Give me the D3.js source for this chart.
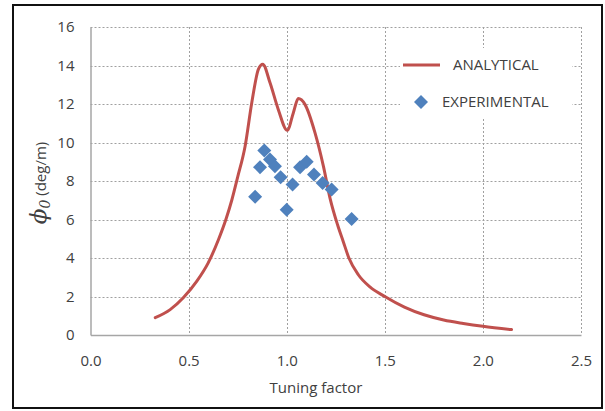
<!DOCTYPE html>
<html>
<head>
<meta charset="utf-8">
<script src="https://cdn.jsdelivr.net/npm/d3@7"></script>
<style>
  body { margin: 0; background: #fff; }
  text { font-family: "Open Sans", sans-serif; fill: #404040; }
</style>
</head>
<body>
<div id="chart"></div>
<script>
const width = 605
const height = 411

// analytical curve (tuning factor, phi0)
const analyticalX = [0.33, 0.406, 0.474, 0.542, 0.6, 0.652, 0.69, 0.72, 0.75, 0.788, 0.822, 0.856, 0.878, 0.915, 0.957, 1.003, 1.034, 1.059, 1.093, 1.144, 1.187, 1.221, 1.26, 1.288, 1.317, 1.365, 1.424, 1.5, 1.6, 1.7, 1.8, 1.9, 2.0, 2.146]
const analyticalY = [0.9, 1.32, 1.95, 2.8, 3.75, 4.95, 6.0, 7.0, 8.2, 9.81, 12.07, 13.81, 14.07, 13.1, 11.72, 10.63, 11.55, 12.28, 11.98, 10.51, 8.77, 7.1, 5.7, 4.86, 4.0, 3.13, 2.5, 2.0, 1.45, 1.05, 0.78, 0.6, 0.45, 0.28]

// experimental points
const experimentalX = [0.839, 0.864, 0.886, 0.915, 0.940, 0.969, 1.0, 1.030, 1.068, 1.102, 1.139, 1.183, 1.229, 1.331]
const experimentalY = [7.18, 8.72, 9.59, 9.12, 8.77, 8.20, 6.51, 7.82, 8.72, 9.0, 8.34, 7.90, 7.56, 6.03]

const xTicks = [0, 0.5, 1.0, 1.5, 2.0, 2.5]
const yTicks = [0, 2, 4, 6, 8, 10, 12, 14, 16]

const lineColor = '#C0504D'
const pointColor = '#4F81BD'

const margin = { left: 90.5, right: 581, top: 27, bottom: 335 }

const xScale = d3.scaleLinear().domain([0, 2.5]).range([margin.left, margin.right])
const yScale = d3.scaleLinear().domain([0, 16]).range([margin.bottom, margin.top])

const svg = d3.select('#chart').append('svg').attr('width', width).attr('height', height)

svg.append('rect').attr('width', width).attr('height', height).attr('fill', '#fff')

// gridlines
svg.append('g').selectAll('line').data(yTicks.filter(d => d > 0))
  .enter().append('line')
  .attr('x1', margin.left).attr('x2', margin.right)
  .attr('y1', d => Math.round(yScale(d)) + 0.5).attr('y2', d => Math.round(yScale(d)) + 0.5)
  .attr('stroke', '#a0a0a0').attr('stroke-dasharray', '2,2')

svg.append('g').selectAll('line').data(xTicks.filter(d => d > 0))
  .enter().append('line')
  .attr('x1', d => Math.round(xScale(d)) + 0.5).attr('x2', d => Math.round(xScale(d)) + 0.5)
  .attr('y1', margin.top).attr('y2', margin.bottom)
  .attr('stroke', '#a0a0a0').attr('stroke-dasharray', '2,2')

// axes
const xAxis = d3.axisBottom(xScale).tickValues(xTicks).tickFormat(d3.format('.1f')).tickSize(0).tickPadding(20)
const yAxis = d3.axisLeft(yScale).tickValues(yTicks).tickFormat(d3.format('d')).tickSize(0).tickPadding(16)

const gx = svg.append('g').attr('transform', 'translate(0,' + margin.bottom + ')').call(xAxis)
const gy = svg.append('g').attr('transform', 'translate(' + margin.left + ',0)').call(yAxis)
gx.select('.domain').attr('stroke', '#a6a6a6').attr('stroke-width', 1.5)
gy.select('.domain').attr('stroke', '#a6a6a6').attr('stroke-width', 1.5)
svg.selectAll('.tick text').attr('font-family', '"Open Sans", sans-serif').attr('font-size', 15).attr('fill', '#404040')

// legend box
svg.append('rect').attr('x', 400).attr('y', 48).attr('width', 172).attr('height', 70).attr('fill', '#fff')

// analytical line
const lineData = analyticalX.map((x, i) => [x, analyticalY[i]])
const line = d3.line()
  .x(d => xScale(d[0]))
  .y(d => yScale(d[1]))
  .curve(d3.curveMonotoneX)

svg.append('path').datum(lineData)
  .attr('d', line)
  .attr('fill', 'none')
  .attr('stroke', lineColor)
  .attr('stroke-width', 3)
  .attr('stroke-linecap', 'round')

// experimental diamonds
const diamond = d3.symbol().type(d3.symbolSquare).size(98)
svg.append('g').selectAll('path').data(experimentalX.map((x, i) => [x, experimentalY[i]]))
  .enter().append('path')
  .attr('d', diamond)
  .attr('transform', d => 'translate(' + xScale(d[0]) + ',' + yScale(d[1]) + ') rotate(45)')
  .attr('fill', pointColor)

// legend
svg.append('line').attr('x1', 403).attr('x2', 440).attr('y1', 65).attr('y2', 65)
  .attr('stroke', lineColor).attr('stroke-width', 3)
svg.append('text').attr('x', 453).attr('y', 65).attr('dy', '0.35em').attr('font-size', 15).text('ANALYTICAL')
svg.append('path').attr('d', diamond).attr('transform', 'translate(421,102) rotate(45)').attr('fill', pointColor)
svg.append('text').attr('x', 442).attr('y', 102).attr('dy', '0.35em').attr('font-size', 15).text('EXPERIMENTAL')

// axis titles
svg.append('text').attr('x', 316).attr('y', 393).attr('text-anchor', 'middle').attr('font-size', 15).text('Tuning factor')

const yTitle = svg.append('text').attr('transform', 'translate(46,183) rotate(-90)').attr('text-anchor', 'middle')
yTitle.append('tspan').attr('font-family', '"DejaVu Serif", serif').attr('font-style', 'italic').attr('font-size', 23).text('ϕ')
yTitle.append('tspan').attr('font-family', '"DejaVu Serif", serif').attr('font-style', 'italic').attr('font-size', 14).attr('dy', 4).text('0')
yTitle.append('tspan').attr('font-size', 15).attr('dy', -4).text(' (deg/m)')

// outer border
svg.append('rect').attr('x', 13).attr('y', 5).attr('width', 589).attr('height', 403)
  .attr('fill', 'none').attr('stroke', '#111').attr('stroke-width', 2)
</script>
</body>
</html>
